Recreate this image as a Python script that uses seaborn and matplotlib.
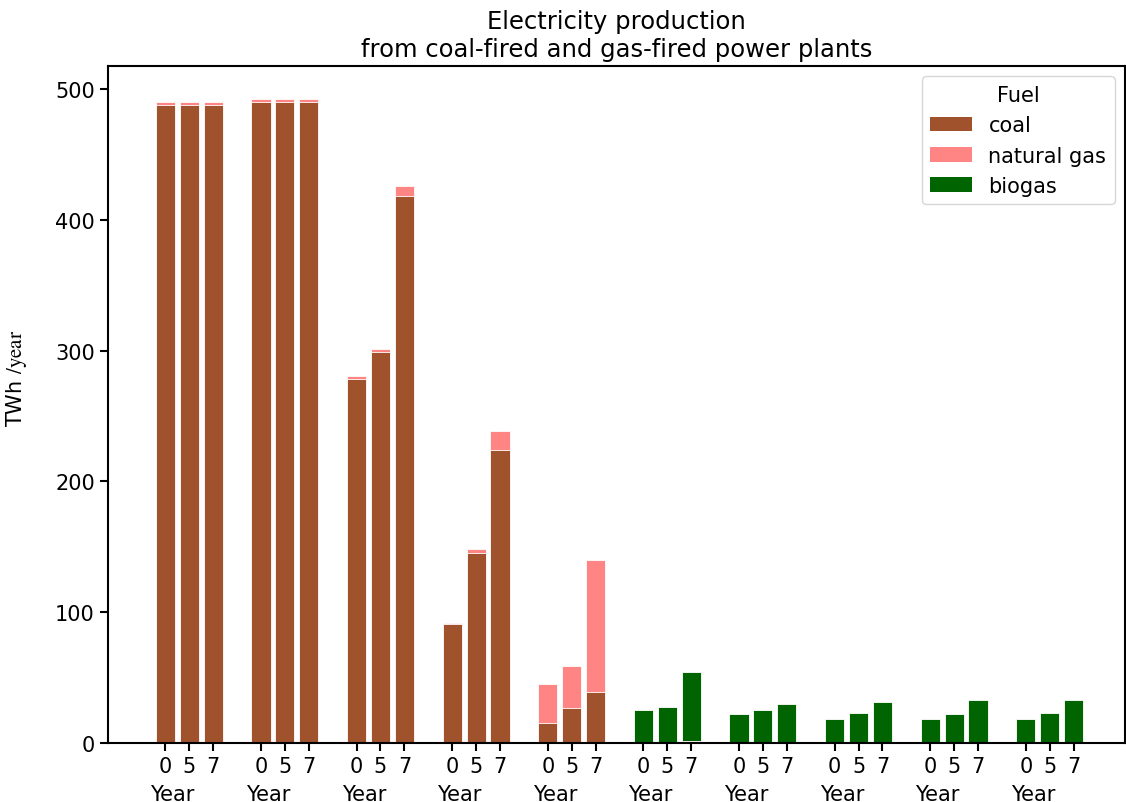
import numpy as np
import pandas as pd
import seaborn as sns
import matplotlib
matplotlib.use("Agg")
import matplotlib.pyplot as plt
import matplotlib.transforms as mtransforms
from matplotlib.patches import Patch

# ---- data ----
years = [0, 5, 7]
n_groups = 10
coal = [
    488, 488, 488,
    490, 490, 490,
    278, 299, 418,
    91, 145, 224,
    15, 27, 39,
    0.3, 0.3, 1.2,
    0, 0, 0,
    0, 0, 0,
    0, 0, 0,
    0, 0, 0,
]
natural_gas = [
    2, 2, 2,
    2, 2, 2,
    2.5, 2.5, 7.5,
    0.8, 3, 14.5,
    30, 32, 101,
    0, 0, 0,
    0, 0, 0,
    0, 0, 0,
    0, 0, 0,
    0, 0, 0,
]
biogas = [
    0, 0, 0,
    0, 0, 0,
    0, 0, 0,
    0, 0, 0,
    0, 0, 0,
    25, 27.5, 53,
    22, 25, 29.5,
    18, 23, 31,
    18, 22, 33,
    18, 23, 33,
]
fuels = ["coal", "natural gas", "biogas"]
colors = {"coal": "#A0522D", "natural gas": "#FF8585", "biogas": "#006400"}

# ---- layout of bars ----
group_idx = np.repeat(np.arange(n_groups), len(years))
bar_idx = np.tile(np.arange(len(years)), n_groups)
pos = group_idx * 4 + bar_idx

df = pd.DataFrame({
    "pos": pos,
    "year": np.tile(years, n_groups),
    "coal": coal,
    "natural gas": natural_gas,
    "biogas": biogas,
})
df["coal+gas"] = df["coal"] + df["natural gas"]
df["total"] = df["coal+gas"] + df["biogas"]

plt.rcParams["mathtext.fontset"] = "stix"
fig = plt.figure(figsize=(11.26, 8.03), dpi=100)
ax = fig.add_axes([108 / 1126, 1 - 744 / 803, (1125 - 108) / 1126, (744 - 67) / 803])

edge = dict(edgecolor="white", linewidth=0.6)
sns.barplot(data=df, x="pos", y="total", native_scale=True, color=colors["biogas"],
            saturation=1, width=0.8, ax=ax, errorbar=None, **edge)
sns.barplot(data=df, x="pos", y="coal+gas", native_scale=True, color=colors["natural gas"],
            saturation=1, width=0.8, ax=ax, errorbar=None, **edge)
sns.barplot(data=df, x="pos", y="coal", native_scale=True, color=colors["coal"],
            saturation=1, width=0.8, ax=ax, errorbar=None, **edge)

ax.set_xticks(df["pos"])
ax.set_xticklabels([str(y) for y in df["year"]], fontsize=15)
ax.tick_params(axis="y", labelsize=15, width=1.5, length=6)
ax.tick_params(axis="x", width=1.5, length=6)
ax.set_xlim(-2.4, df["pos"].max() + 2.15)
ax.set_ylim(0, 517.5)
ax.set_yticks([0, 100, 200, 300, 400, 500])
for s in ax.spines.values():
    s.set_linewidth(1.5)

trans = mtransforms.blended_transform_factory(ax.transData, ax.transAxes)
for g in range(n_groups):
    ax.text(g * 4 + 0.3, -0.0606, "Year", transform=trans, ha="center", va="top", fontsize=15)

ax.set_xlabel("")
ax.set_ylabel(r"TWh $\mathrm{/year}$", fontsize=15)
ax.yaxis.set_label_coords(-0.078, 0.54)
ax.set_title("Electricity production\nfrom coal-fired and gas-fired power plants", fontsize=17.5, pad=7)

handles = [Patch(facecolor=colors[f], label=f) for f in fuels]
ax.legend(handles=handles, title="Fuel", loc="upper right", fontsize=15, title_fontsize=15,
          frameon=True)

fig.savefig("out.png", dpi=100)
